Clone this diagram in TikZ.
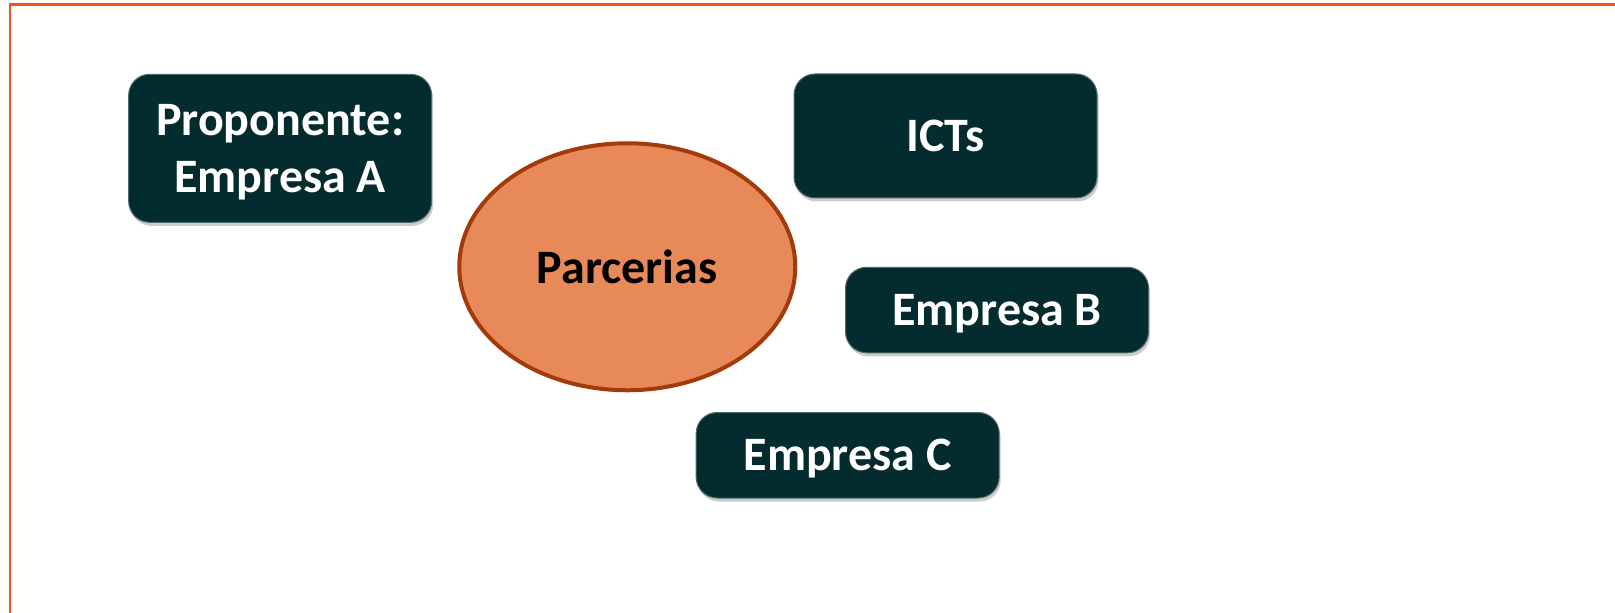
\documentclass[tikz,border=0pt]{standalone}
\usepackage{fontspec}
\setmainfont{Carlito}
\usepackage{tikz}
\usetikzlibrary{shapes,positioning,shadows}
\definecolor{boxteal}{HTML}{042B2D}
\definecolor{ovalfill}{HTML}{E8895A}
\definecolor{ovaldraw}{HTML}{A33A0A}
\definecolor{framered}{HTML}{E8581A}
\tikzstyle{partner} = [draw=boxteal!70, line width=1pt, fill=boxteal, text=white,
text centered, font=\bfseries\fontsize{48}{57}\selectfont, rounded corners=21pt, text depth=0pt,
minimum width=303pt, drop shadow={shadow xshift=1.5pt, shadow yshift=-3.5pt, opacity=0.4}]
\tikzstyle{oval} = [ellipse, draw=ovaldraw, line width=4pt, fill=ovalfill, text=black,
text centered, font=\bfseries\fontsize{48}{57}\selectfont, minimum width=336pt, minimum height=247pt]

\begin{document}
\begin{tikzpicture}[x=1.03pt, y=-1.03pt]
\useasboundingbox (0,0) rectangle (1568,595);
\begin{scope}
\clip (0,0) rectangle (1568,595);
\draw[framered, line width=2.5pt] (9.5,4.5) rectangle (1620,640);
\end{scope}

\node[oval] (parcerias) at (609,259) {\raisebox{-4pt}{Parcerias}};

\node[partner, minimum height=148pt, align=center] (proponente) at (272,144) {Proponente:\\Empresa A};
\node[partner, minimum height=124pt] (icts) at (918,132) {ICTs};
\node[partner, minimum height=85.5pt] (empresab) at (968,301) {Empresa B};
\node[partner, minimum height=85.5pt] (empresac) at (823,442) {Empresa C};

\end{tikzpicture}
\end{document}
